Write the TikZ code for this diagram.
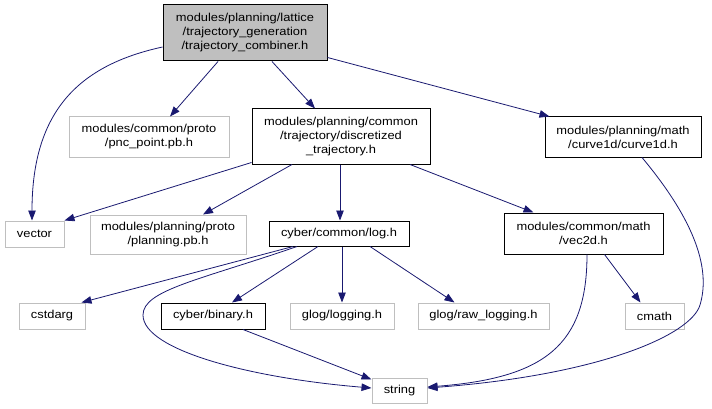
\documentclass[tikz,border=0pt]{standalone}
\usepackage{fontspec}
\setmainfont{Liberation Sans}[FakeStretch=1.12]
\usetikzlibrary{arrows.meta,calc}
\definecolor{edgeblue}{HTML}{191970}
\definecolor{boxgray}{HTML}{BFBFBF}
\begin{document}
\begin{tikzpicture}[x=1pt,y=-1pt,
  every node/.style={font=\fontsize{11.5}{14}\selectfont, inner sep=0pt, align=center},
  docbox/.style={draw=black, line width=1pt, rectangle},
  extbox/.style={draw=boxgray, line width=1pt, rectangle},
  dep/.style={draw=edgeblue, line width=0.8pt, -{Triangle[length=10pt,width=7.5pt]}, fill=none}
]
\useasboundingbox (0,0) rectangle (712,409);
% nodes
\node[docbox, fill=boxgray, minimum width=164, minimum height=56] (top) at (245,33)
  {modules/planning/lattice\\/trajectory\_generation\\/trajectory\_combiner.h};
\node[extbox, minimum width=160, minimum height=40] (pnc) at (149,137)
  {modules/common/proto\\/pnc\_point.pb.h};
\node[docbox, minimum width=178, minimum height=55] (disc) at (341,136.5)
  {modules/planning/common\\/trajectory/discretized\\\_trajectory.h};
\node[docbox, minimum width=156, minimum height=40] (curve) at (623,137)
  {modules/planning/math\\/curve1d/curve1d.h};
\node[extbox, minimum width=59, minimum height=26] (vector) at (34.5,234) {vector};
\node[extbox, minimum width=156, minimum height=39] (planning) at (168,234.5)
  {modules/planning/proto\\/planning.pb.h};
\node[docbox, minimum width=140, minimum height=25] (log) at (339,233.5) {cyber/common/log.h};
\node[docbox, minimum width=159, minimum height=41] (vec) at (583.5,233.5)
  {modules/common/math\\/vec2d.h};
\node[extbox, minimum width=66, minimum height=26] (cstdarg) at (52,316) {cstdarg};
\node[docbox, minimum width=104, minimum height=26] (binary) at (213,316) {cyber/binary.h};
\node[extbox, minimum width=104, minimum height=26] (logging) at (342,316) {glog/logging.h};
\node[extbox, minimum width=131, minimum height=26] (raw) at (483.5,316) {glog/raw\_logging.h};
\node[extbox, minimum width=59, minimum height=26] (cmath) at (654.5,316) {cmath};
\node[extbox, minimum width=55, minimum height=25] (string) at (399.5,390.5) {string};
% edges
\draw[dep] ([yshift=-14]top.west) .. controls (80,65) and ([xshift=-2.5]vector.north |- 0,110) .. ([xshift=-2.5]vector.north);
\draw[dep] ([xshift=-27]top.south) -- ([xshift=21]pnc.north);
\draw[dep] ([xshift=27]top.south) -- ([xshift=-26]disc.north);
\draw[dep] ([yshift=4]top.south east) -- ([xshift=5]curve.north west);
\draw[dep] ([yshift=2]disc.south west) -- (vector.north east);
\draw[dep] ([xshift=-49]disc.south) -- ([xshift=35]planning.north);
\draw[dep] ([xshift=-1]disc.south) -- ([xshift=1]log.north);
\draw[dep] ([xshift=69]disc.south) -- ([xshift=-50]vec.north);
\draw[dep] ([xshift=19]curve.south) .. controls (690,215) and (712,265) .. (700,305)
  .. controls (691,335) and (600,375) .. ([yshift=2.5]string.east);
\draw[dep] ([xshift=3.5]vec.south) .. controls (587,345) and (545,378) .. ([yshift=3.5]string.east);
\draw[dep] ([xshift=21]vec.south) -- ([xshift=-14]cmath.north);
\draw[dep] ([xshift=-46]log.south) -- ([xshift=-4]cstdarg.north east);
\draw[dep] ([xshift=-42]log.south) .. controls (200,280) and (143,290) .. (143,315)
  .. controls (143,350) and (250,378) .. ([yshift=2.5]string.west);
\draw[dep] ([xshift=-21]log.south) -- ([xshift=19]binary.north);
\draw[dep] ([xshift=3]log.south) -- (logging.north);
\draw[dep] ([xshift=31]log.south) -- ([xshift=-29]raw.north);
\draw[dep] ([xshift=30]binary.south) -- ([yshift=-2]string.north west);
\end{tikzpicture}
\end{document}
